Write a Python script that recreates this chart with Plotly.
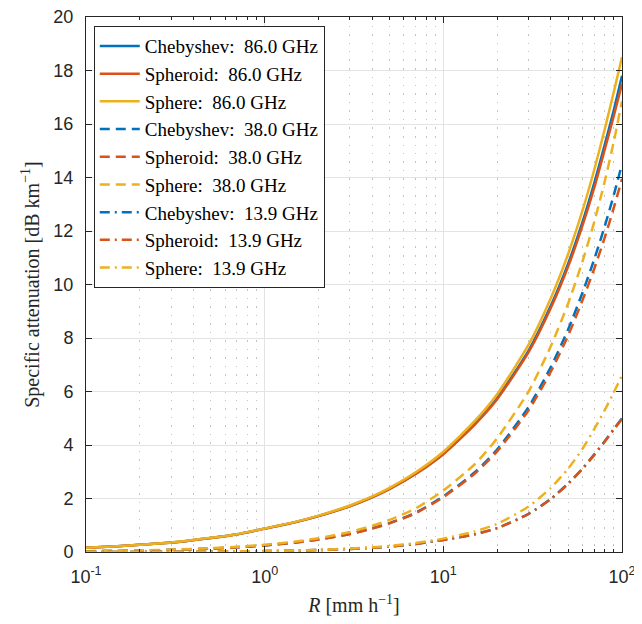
import plotly.graph_objects as go

# Rain rate [mm/h]
R = [0.1, 0.15, 0.2, 0.3, 0.5, 0.7, 1, 1.5, 2, 3, 4, 5, 7, 10, 15, 20, 30, 40, 50, 60, 70, 80, 90, 100]

# 86.0 GHz
cheb_86 = [0.159, 0.213, 0.268, 0.352, 0.526, 0.660, 0.873, 1.126, 1.347, 1.720, 2.056, 2.364, 2.930, 3.675, 4.790, 5.750, 7.530, 9.210, 10.79, 12.32, 13.80, 15.22, 16.52, 17.80]
sphd_86 = [0.158, 0.213, 0.267, 0.351, 0.525, 0.658, 0.871, 1.123, 1.340, 1.711, 2.046, 2.352, 2.915, 3.656, 4.765, 5.711, 7.470, 9.130, 10.68, 12.19, 13.63, 15.04, 16.31, 17.50]
sphr_86 = [0.160, 0.215, 0.270, 0.355, 0.530, 0.665, 0.880, 1.135, 1.360, 1.740, 2.080, 2.400, 2.980, 3.750, 4.900, 5.900, 7.750, 9.500, 11.15, 12.75, 14.30, 15.80, 17.20, 18.50]

# 38.0 GHz
cheb_38 = [0.028, 0.041, 0.054, 0.080, 0.129, 0.176, 0.247, 0.359, 0.467, 0.676, 0.884, 1.082, 1.470, 2.080, 2.980, 3.830, 5.420, 6.920, 8.330, 9.680, 10.95, 12.17, 13.35, 14.50]
sphd_38 = [0.028, 0.041, 0.054, 0.079, 0.128, 0.175, 0.245, 0.356, 0.463, 0.670, 0.875, 1.070, 1.450, 2.050, 2.930, 3.760, 5.300, 6.750, 8.100, 9.400, 10.60, 11.75, 12.87, 13.95]
sphr_38 = [0.031, 0.045, 0.059, 0.087, 0.141, 0.193, 0.270, 0.395, 0.515, 0.750, 0.980, 1.200, 1.630, 2.300, 3.280, 4.250, 6.000, 7.700, 9.300, 10.85, 12.35, 13.85, 15.35, 16.85]

# 13.9 GHz
cheb_14 = [0.0025, 0.0039, 0.0054, 0.0086, 0.0154, 0.0226, 0.0332, 0.0522, 0.0733, 0.1155, 0.1590, 0.2040, 0.3015, 0.4520, 0.6630, 0.8940, 1.4270, 1.9900, 2.5630, 3.1160, 3.6500, 4.1400, 4.6000, 5.0000]
sphd_14 = [0.0025, 0.0039, 0.0054, 0.0086, 0.0153, 0.0225, 0.0330, 0.0520, 0.0730, 0.1150, 0.1580, 0.2030, 0.3000, 0.4500, 0.6600, 0.8900, 1.4200, 1.9800, 2.5500, 3.1000, 3.6300, 4.1200, 4.5700, 4.9700]
sphr_14 = [0.0027, 0.0043, 0.0060, 0.0095, 0.0170, 0.0250, 0.0370, 0.0580, 0.0810, 0.1280, 0.1760, 0.2250, 0.3350, 0.5000, 0.7700, 1.0500, 1.7000, 2.4000, 3.1200, 3.8500, 4.6000, 5.3000, 5.9700, 6.6000]

freq_labels = ["86.0", "38.0", "13.9"]
model_names = ["Chebyshev", "Spheroid", "Sphere"]
colors = ["#0072BD", "#D95319", "#EDB120"]
dashes = ["solid", "10px,6px", "10px,5px,2px,5px"]

series = [
    [cheb_86, sphd_86, sphr_86],
    [cheb_38, sphd_38, sphr_38],
    [cheb_14, sphd_14, sphr_14],
]

x_tickvals = [0.1, 1, 10, 100]
x_ticktext = ["10<sup>-1</sup>", "10<sup>0</sup>", "10<sup>1</sup>", "10<sup>2</sup>"]
y_tickvals = list(range(0, 21, 2))

fig = go.Figure()
NB = "\u00a0"
for fi, f in enumerate(freq_labels):
    for mi, m in enumerate(model_names):
        fig.add_trace(go.Scatter(
            x=R, y=series[fi][mi], mode="lines",
            line=dict(color=colors[mi], width=2.5, dash=dashes[fi], shape="spline", smoothing=0.6),
            name=f"{m}:{NB}{NB}{f}{NB}GHz",
        ))

axis_col = "#262626"
# page body has an 8px default margin; figure sized so the page fits the 642x624 window
fig.update_layout(
    width=634, height=608,
    margin=dict(l=78, r=20, t=9, b=64, autoexpand=False),
    paper_bgcolor="white", plot_bgcolor="white",
    showlegend=True,
    legend=dict(
        x=0.0145, y=0.983, xanchor="left", yanchor="top",
        bgcolor="white", bordercolor=axis_col, borderwidth=1,
        font=dict(family="Liberation Serif", size=19, color="black"),
        tracegroupgap=0, itemwidth=40,
    ),
    font=dict(family="Liberation Sans", color=axis_col),
)
fig.update_xaxes(
    type="log", range=[-1, 2], automargin=False,
    tickvals=x_tickvals, ticktext=x_ticktext,
    tickfont=dict(family="Liberation Sans", size=18, color=axis_col),
    ticks="inside", ticklen=6, tickcolor=axis_col,
    showline=True, linecolor=axis_col, linewidth=1, mirror="ticks",
    showgrid=True, gridcolor="#e3e3e3", gridwidth=1,
    minor=dict(dtick="D1", ticks="inside", ticklen=3, tickcolor=axis_col,
               showgrid=True, gridcolor="#c4c4c4", griddash="1.5px,7px", gridwidth=1.2),
    title=dict(text="<i>R</i> [mm h<sup>−1</sup>]",
               font=dict(family="Liberation Serif", size=20, color=axis_col), standoff=12),
    zeroline=False,
    ticklabelstandoff=8,
    ticklabeloverflow="allow",
)
fig.update_yaxes(
    range=[0, 20], tickvals=y_tickvals, automargin=False,
    tickfont=dict(family="Liberation Sans", size=18, color=axis_col),
    ticks="inside", ticklen=6, tickcolor=axis_col,
    showline=True, linecolor=axis_col, linewidth=1, mirror="ticks",
    showgrid=True, gridcolor="#e3e3e3", gridwidth=1,
    title=dict(text="Specific attenuation [dB km<sup>−1</sup>]",
               font=dict(family="Liberation Serif", size=20, color=axis_col), standoff=8),
    zeroline=False,
    ticklabelstandoff=8,
    ticklabeloverflow="allow",
)

fig.write_html("out.html")
